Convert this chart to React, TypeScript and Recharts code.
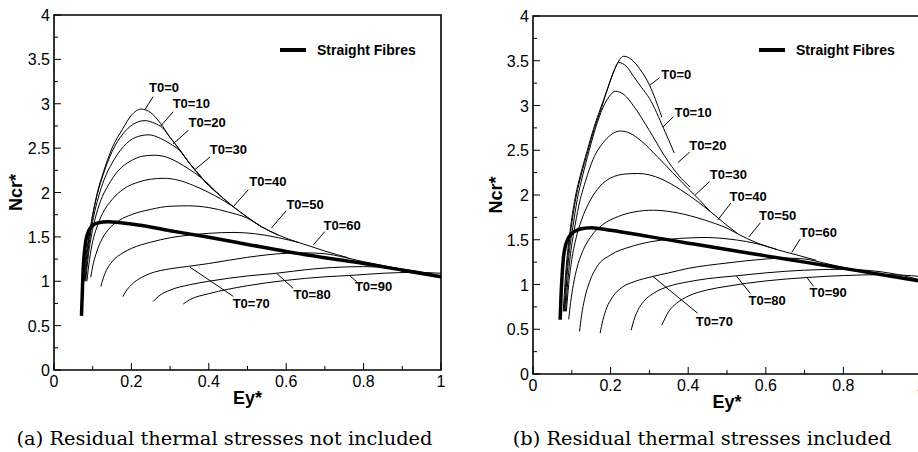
import { LineChart, Line, XAxis, YAxis, ReferenceArea, ReferenceLine, ReferenceDot, Legend } from "recharts"

const SANS = '"Liberation Sans", Arial, Helvetica, sans-serif'
const SERIF = '"DejaVu Serif", serif'

const T0_VALUES = [0, 10, 20, 30, 40, 50, 60, 70, 80, 90]
const X_MAJOR = [0, 0.2, 0.4, 0.6, 0.8, 1]
const X_MINOR = [0.1, 0.3, 0.5, 0.7, 0.9]
const Y_MAJOR = [0, 0.5, 1, 1.5, 2, 2.5, 3, 3.5, 4]
const Y_MINOR = [0.25, 0.75, 1.25, 1.75, 2.25, 2.75, 3.25, 3.75]
const X_TICKS = [...X_MAJOR, ...X_MINOR].sort((a, b) => a - b)
const Y_TICKS = [...Y_MAJOR, ...Y_MINOR].sort((a, b) => a - b)

// (a) residual thermal stresses not included: [Ey*, Ncr*]
const A_STRAIGHT = [[0.071, 0.61], [0.073, 0.85], [0.075, 1.1], [0.078, 1.3], [0.082, 1.45], [0.09, 1.57], [0.1, 1.63], [0.115, 1.66], [0.14, 1.67], [0.2, 1.645], [0.3, 1.57], [0.4, 1.495], [0.5, 1.415], [0.6, 1.335], [0.7, 1.265], [0.8, 1.2], [0.9, 1.125], [1.0, 1.05]]
const A_T0_0 = [[0.076, 1.0], [0.083, 1.3], [0.09, 1.5], [0.1, 1.75], [0.112, 2.0], [0.127, 2.22], [0.15, 2.5], [0.178, 2.72], [0.2, 2.87], [0.225, 2.94], [0.25, 2.9], [0.275, 2.78], [0.3, 2.62], [0.325, 2.48], [0.35, 2.33], [0.375, 2.2], [0.4, 2.08]]
const A_T0_10 = [[0.078, 1.0], [0.085, 1.3], [0.092, 1.52], [0.1, 1.74], [0.112, 1.98], [0.127, 2.2], [0.15, 2.46], [0.178, 2.66], [0.205, 2.77], [0.235, 2.81], [0.26, 2.78], [0.28, 2.73], [0.3, 2.62], [0.325, 2.48], [0.35, 2.33], [0.375, 2.2], [0.4, 2.08], [0.428, 1.97]]
const A_T0_20 = [[0.08, 1.0], [0.087, 1.3], [0.094, 1.52], [0.102, 1.72], [0.115, 1.95], [0.13, 2.15], [0.15, 2.33], [0.18, 2.52], [0.21, 2.62], [0.245, 2.65], [0.275, 2.61], [0.3, 2.55], [0.325, 2.47], [0.35, 2.33], [0.375, 2.2], [0.4, 2.08], [0.428, 1.97], [0.463, 1.84]]
const A_T0_30 = [[0.082, 1.0], [0.089, 1.3], [0.097, 1.52], [0.106, 1.7], [0.12, 1.9], [0.14, 2.08], [0.165, 2.24], [0.2, 2.36], [0.23, 2.41], [0.258, 2.42], [0.29, 2.4], [0.32, 2.34], [0.35, 2.26], [0.385, 2.15], [0.428, 1.97], [0.463, 1.84], [0.5, 1.72], [0.536, 1.615]]
const A_T0_40 = [[0.085, 1.0], [0.092, 1.25], [0.1, 1.45], [0.11, 1.6], [0.125, 1.76], [0.15, 1.92], [0.18, 2.04], [0.22, 2.12], [0.25, 2.15], [0.285, 2.16], [0.32, 2.14], [0.36, 2.08], [0.4, 2.0], [0.43, 1.93], [0.463, 1.84], [0.5, 1.72], [0.536, 1.615], [0.58, 1.52]]
const A_T0_50 = [[0.095, 1.045], [0.1, 1.17], [0.108, 1.3], [0.12, 1.44], [0.14, 1.58], [0.17, 1.69], [0.2, 1.75], [0.25, 1.81], [0.3, 1.845], [0.345, 1.85], [0.4, 1.83], [0.45, 1.78], [0.5, 1.71], [0.536, 1.615], [0.58, 1.52], [0.633, 1.435]]
const A_T0_60 = [[0.121, 0.94], [0.127, 1.03], [0.135, 1.12], [0.15, 1.22], [0.178, 1.32], [0.2, 1.37], [0.25, 1.44], [0.3, 1.49], [0.35, 1.52], [0.4, 1.54], [0.465, 1.55], [0.52, 1.535], [0.58, 1.49], [0.633, 1.435], [0.7, 1.34], [0.76, 1.265]]
const A_T0_70 = [[0.178, 0.826], [0.185, 0.88], [0.2, 0.96], [0.225, 1.04], [0.25, 1.09], [0.3, 1.14], [0.351, 1.17], [0.4, 1.2], [0.5, 1.27], [0.6, 1.315], [0.65, 1.32], [0.7, 1.31], [0.75, 1.27], [0.8, 1.22], [0.9, 1.135], [1.0, 1.05]]
const A_T0_80 = [[0.256, 0.77], [0.27, 0.83], [0.3, 0.9], [0.35, 0.96], [0.4, 1.0], [0.5, 1.06], [0.575, 1.09], [0.65, 1.13], [0.72, 1.155], [0.8, 1.165], [0.87, 1.15], [0.93, 1.12], [1.0, 1.06]]
const A_T0_90 = [[0.334, 0.744], [0.35, 0.79], [0.4, 0.86], [0.45, 0.91], [0.5, 0.95], [0.6, 1.01], [0.7, 1.05], [0.765, 1.065], [0.85, 1.09], [0.93, 1.1], [1.0, 1.09]]

// (b) residual thermal stresses included
const B_STRAIGHT = [[0.07, 0.606], [0.072, 0.85], [0.075, 1.1], [0.078, 1.28], [0.083, 1.42], [0.09, 1.51], [0.1, 1.57], [0.115, 1.61], [0.135, 1.63], [0.15, 1.635], [0.2, 1.605], [0.3, 1.535], [0.4, 1.462], [0.5, 1.39], [0.6, 1.32], [0.7, 1.25], [0.8, 1.18], [0.9, 1.11], [1.0, 1.035]]
const B_T0_0 = [[0.078, 0.7], [0.083, 1.05], [0.09, 1.4], [0.097, 1.65], [0.11, 2.0], [0.122, 2.22], [0.14, 2.5], [0.156, 2.74], [0.175, 2.98], [0.191, 3.17], [0.21, 3.4], [0.234, 3.55], [0.255, 3.51], [0.275, 3.41], [0.3, 3.23], [0.332, 2.87]]
const B_T0_10 = [[0.08, 0.7], [0.085, 1.05], [0.092, 1.4], [0.099, 1.65], [0.112, 2.0], [0.124, 2.22], [0.142, 2.5], [0.158, 2.74], [0.177, 2.98], [0.193, 3.2], [0.208, 3.38], [0.221, 3.48], [0.24, 3.44], [0.26, 3.32], [0.28, 3.2], [0.3, 3.08], [0.337, 2.74], [0.364, 2.47]]
const B_T0_20 = [[0.082, 0.7], [0.087, 1.05], [0.094, 1.38], [0.102, 1.62], [0.114, 1.95], [0.127, 2.2], [0.145, 2.5], [0.165, 2.8], [0.185, 3.02], [0.2, 3.12], [0.212, 3.16], [0.235, 3.12], [0.26, 2.99], [0.3, 2.72], [0.34, 2.43], [0.375, 2.22], [0.405, 2.09]]
const B_T0_30 = [[0.084, 0.7], [0.09, 1.05], [0.097, 1.35], [0.106, 1.6], [0.118, 1.88], [0.135, 2.15], [0.155, 2.4], [0.18, 2.58], [0.2, 2.67], [0.225, 2.715], [0.25, 2.69], [0.28, 2.6], [0.32, 2.43], [0.36, 2.25], [0.4, 2.07], [0.43, 1.94], [0.457, 1.815]]
const B_T0_40 = [[0.086, 0.7], [0.092, 1.0], [0.1, 1.28], [0.11, 1.5], [0.125, 1.72], [0.145, 1.92], [0.173, 2.1], [0.2, 2.19], [0.24, 2.235], [0.27, 2.24], [0.3, 2.225], [0.33, 2.18], [0.38, 2.06], [0.42, 1.94], [0.457, 1.815], [0.5, 1.66], [0.53, 1.56]]
const B_T0_50 = [[0.092, 0.61], [0.097, 0.8], [0.104, 1.0], [0.113, 1.18], [0.127, 1.36], [0.15, 1.54], [0.18, 1.67], [0.22, 1.76], [0.26, 1.81], [0.31, 1.83], [0.36, 1.81], [0.42, 1.75], [0.47, 1.68], [0.5, 1.63], [0.53, 1.56], [0.58, 1.46], [0.629, 1.39]]
const B_T0_60 = [[0.12, 0.475], [0.125, 0.65], [0.133, 0.84], [0.145, 1.02], [0.165, 1.2], [0.2, 1.33], [0.25, 1.42], [0.3, 1.475], [0.35, 1.505], [0.4, 1.52], [0.45, 1.525], [0.5, 1.51], [0.55, 1.48], [0.6, 1.43], [0.629, 1.39], [0.68, 1.33], [0.73, 1.27]]
const B_T0_70 = [[0.173, 0.457], [0.18, 0.6], [0.19, 0.74], [0.205, 0.86], [0.23, 0.97], [0.26, 1.03], [0.309, 1.09], [0.35, 1.13], [0.4, 1.18], [0.5, 1.24], [0.6, 1.285], [0.65, 1.295], [0.7, 1.285], [0.75, 1.24], [0.8, 1.19], [0.9, 1.11], [1.0, 1.035]]
const B_T0_80 = [[0.253, 0.49], [0.26, 0.6], [0.27, 0.71], [0.285, 0.81], [0.31, 0.9], [0.35, 0.98], [0.4, 1.03], [0.45, 1.065], [0.524, 1.097], [0.6, 1.13], [0.7, 1.16], [0.8, 1.17], [0.87, 1.155], [0.93, 1.12], [1.0, 1.05]]
const B_T0_90 = [[0.332, 0.546], [0.34, 0.62], [0.35, 0.7], [0.37, 0.79], [0.4, 0.87], [0.45, 0.94], [0.5, 0.98], [0.6, 1.04], [0.706, 1.078], [0.8, 1.1], [0.9, 1.11], [0.95, 1.105], [1.0, 1.09]]

const A_CURVES = [A_T0_0, A_T0_10, A_T0_20, A_T0_30, A_T0_40, A_T0_50, A_T0_60, A_T0_70, A_T0_80, A_T0_90]
const B_CURVES = [B_T0_0, B_T0_10, B_T0_20, B_T0_30, B_T0_40, B_T0_50, B_T0_60, B_T0_70, B_T0_80, B_T0_90]

// curve labels: [text x, text y, leader x1, y1, x2, y2] in data units
const A_LABELS = [
  [0.243, 3.19, 0.236, 2.94, 0.256, 3.08],
  [0.304, 3.0, 0.276, 2.75, 0.308, 2.91],
  [0.345, 2.79, 0.308, 2.55, 0.347, 2.7],
  [0.4, 2.49, 0.362, 2.25, 0.403, 2.4],
  [0.502, 2.12, 0.463, 1.84, 0.502, 2.03],
  [0.598, 1.87, 0.562, 1.6, 0.599, 1.79],
  [0.694, 1.63, 0.67, 1.41, 0.7, 1.56],
  [0.459, 0.75, 0.351, 1.16, 0.463, 0.83],
  [0.616, 0.85, 0.575, 1.09, 0.618, 0.92],
  [0.775, 0.94, 0.765, 1.06, 0.782, 0.995],
]
const B_LABELS = [
  [0.328, 3.35, 0.302, 3.23, 0.326, 3.31],
  [0.362, 2.92, 0.335, 2.76, 0.362, 2.875],
  [0.4, 2.55, 0.373, 2.36, 0.404, 2.48],
  [0.453, 2.23, 0.418, 2.0, 0.455, 2.15],
  [0.504, 1.98, 0.476, 1.72, 0.51, 1.91],
  [0.58, 1.77, 0.556, 1.53, 0.586, 1.69],
  [0.685, 1.58, 0.667, 1.36, 0.689, 1.51],
  [0.417, 0.587, 0.309, 1.09, 0.424, 0.68],
  [0.553, 0.82, 0.524, 1.097, 0.56, 0.9],
  [0.71, 0.91, 0.706, 1.078, 0.723, 0.98],
]

const toPts = (arr: number[][]) => arr.map(([x, y]) => ({ x, y }))

function XTick({ x, y, payload }: any) {
  const major = X_MAJOR.includes(payload.value)
  return (
    <g>
      <line x1={x} x2={x} y1={y} y2={y - (major ? 7 : 4)} stroke="#000" strokeWidth={1} />
      {major && (
        <text x={x} y={y + 17} textAnchor="middle" fontSize={16} fontFamily={SANS} fill="#000">
          {payload.value}
        </text>
      )}
    </g>
  )
}

function YTick({ x, y, payload }: any) {
  const major = Y_MAJOR.includes(payload.value)
  return (
    <g>
      <line x1={x} x2={x + (major ? 7 : 4)} y1={y} y2={y} stroke="#000" strokeWidth={1} />
      {major && (
        <text x={x - 4} y={y + 6} textAnchor="end" fontSize={16} fontFamily={SANS} fill="#000">
          {payload.value}
        </text>
      )}
    </g>
  )
}

function FibreLegend({ payload }: any) {
  const items = (payload || []).filter((p: any) => p.type !== "none")
  return (
    <div>
      {items.map((p: any) => (
        <div key={p.value} style={{ display: "flex", alignItems: "center", height: 16 }}>
          <svg width={26} height={6}>
            <line x1={0} x2={26} y1={3} y2={3} stroke="#000" strokeWidth={4} />
          </svg>
          <span style={{ marginLeft: 11, fontFamily: SANS, fontWeight: 700, fontSize: 14 }}>{p.value}</span>
        </div>
      ))}
    </div>
  )
}

interface PanelProps {
  width: number
  height: number
  yAxisWidth: number
  xAxisHeight: number
  margin: { top: number; right: number; bottom: number; left: number }
  curves: number[][][]
  straight: number[][]
  labels: number[][]
  legendPos: { left: number; top: number }
  yTitleX: number
}

function Panel(p: PanelProps) {
  return (
    <LineChart width={p.width} height={p.height} margin={p.margin}>
      <XAxis
        type="number"
        dataKey="x"
        domain={[0, 1]}
        ticks={X_TICKS}
        interval={0}
        tick={(t: any) => <XTick {...t} />}
        tickLine={false}
        axisLine={false}
        tickSize={0}
        tickMargin={0}
        height={p.xAxisHeight}
        label={(l: any) => (
          <text
            x={l.viewBox.x + l.viewBox.width / 2}
            y={l.viewBox.y + 34}
            textAnchor="middle"
            fontFamily={SANS}
            fontWeight={700}
            fontSize={18}
          >
            Ey*
          </text>
        )}
      />
      <YAxis
        type="number"
        domain={[0, 4]}
        ticks={Y_TICKS}
        interval={0}
        tick={(t: any) => <YTick {...t} />}
        tickLine={false}
        axisLine={false}
        tickSize={0}
        tickMargin={0}
        width={p.yAxisWidth}
        label={(l: any) => {
          const cx = l.viewBox.x + p.yTitleX
          const cy = l.viewBox.y + l.viewBox.height / 2
          return (
            <text
              x={cx}
              y={cy}
              transform={`rotate(-90 ${cx} ${cy})`}
              textAnchor="middle"
              fontFamily={SANS}
              fontWeight={700}
              fontSize={18}
            >
              Ncr*
            </text>
          )
        }}
      />
      <ReferenceArea x1={0} x2={1} y1={0} y2={4} fill="none" stroke="#000" strokeWidth={1.6} ifOverflow="visible" />
      {p.curves.map((c, i) => (
        <Line
          key={T0_VALUES[i]}
          data={toPts(c)}
          dataKey="y"
          name={`T0=${T0_VALUES[i]}`}
          type="monotone"
          stroke="#000"
          strokeWidth={1}
          dot={false}
          activeDot={false}
          legendType="none"
          isAnimationActive={false}
        />
      ))}
      <Line
        data={toPts(p.straight)}
        dataKey="y"
        name="Straight Fibres"
        type="monotone"
        stroke="#000"
        strokeWidth={3.5}
        dot={false}
        activeDot={false}
        isAnimationActive={false}
      />
      {p.labels.map((l, i) => (
        <ReferenceLine
          key={`lead-${i}`}
          segment={[{ x: l[2], y: l[3] }, { x: l[4], y: l[5] }]}
          stroke="#000"
          strokeWidth={1}
          ifOverflow="visible"
        />
      ))}
      {p.labels.map((l, i) => (
        <ReferenceDot
          key={`lab-${i}`}
          x={l[0]}
          y={l[1]}
          r={1}
          fill="none"
          stroke="none"
          label={{
            value: `T0=${T0_VALUES[i]}`,
            position: "right",
            offset: 0,
            fontSize: 13,
            fontWeight: 700,
            fontFamily: SANS,
            fill: "#000",
          }}
        />
      ))}
      <Legend
        layout="horizontal"
        verticalAlign="middle"
        align="center"
        content={(props: any) => <FibreLegend {...props} />}
        wrapperStyle={{ left: p.legendPos.left, top: p.legendPos.top, width: "auto" }}
      />
    </LineChart>
  )
}

export default function App() {
  return (
    <div style={{ position: "absolute", left: 0, top: 0, width: 918, height: 452, overflow: "hidden", background: "#fff" }}>
      <div style={{ position: "absolute", left: 0, top: 0 }}>
        <Panel
          width={460}
          height={420}
          yAxisWidth={54}
          xAxisHeight={30}
          margin={{ top: 15, right: 19, bottom: 20, left: 0 }}
          curves={A_CURVES}
          straight={A_STRAIGHT}
          labels={A_LABELS}
          legendPos={{ left: 280, top: 42 }}
          yTitleX={22}
        />
      </div>
      <div style={{ position: "absolute", left: 460, top: 0 }}>
        <Panel
          width={475}
          height={425}
          yAxisWidth={73}
          xAxisHeight={31}
          margin={{ top: 16, right: 14, bottom: 20, left: 0 }}
          curves={B_CURVES}
          straight={B_STRAIGHT}
          labels={B_LABELS}
          legendPos={{ left: 299, top: 42 }}
          yTitleX={42}
        />
      </div>
      <div style={{ position: "absolute", left: 0, width: 449, top: 428, textAlign: "center", fontFamily: SERIF, fontSize: 19.4, lineHeight: "22px", whiteSpace: "nowrap" }}>
        (a) Residual thermal stresses not included
      </div>
      <div style={{ position: "absolute", left: 502, width: 400, top: 428, textAlign: "center", fontFamily: SERIF, fontSize: 19.4, lineHeight: "22px", whiteSpace: "nowrap" }}>
        (b) Residual thermal stresses included
      </div>
    </div>
  )
}
